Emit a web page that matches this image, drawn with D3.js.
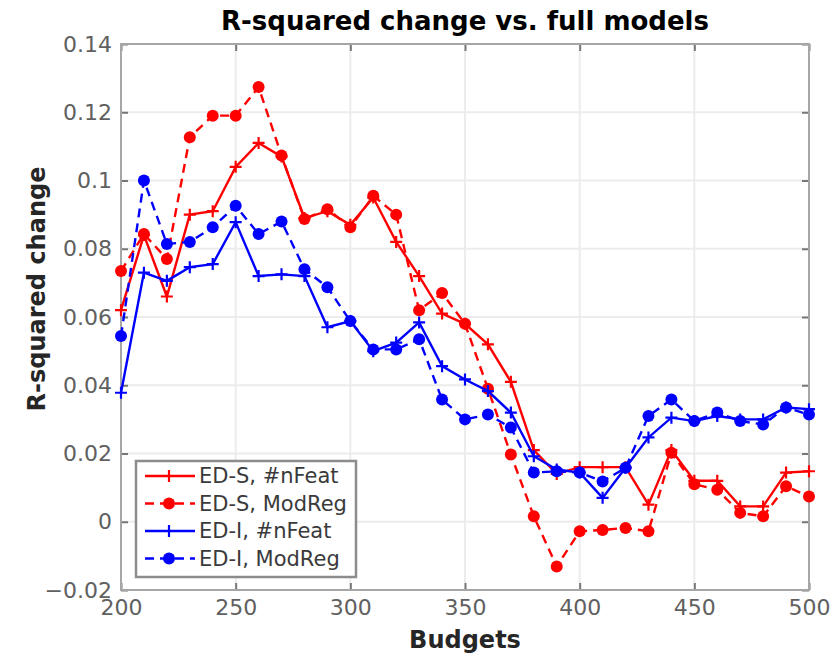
<!DOCTYPE html>
<html lang="en">
<head>
<meta charset="utf-8">
<title>R-squared change vs. full models</title>
<script src="https://d3js.org/d3.v7.min.js"></script>
<style>
  body { margin: 0; background: #fff; }
  text { font-family: "DejaVu Sans", sans-serif; }
</style>
</head>
<body>
<script>
// budgets on the x axis
var budgets = [200, 210, 220, 230, 240, 250, 260, 270, 280, 290, 300, 310, 320, 330, 340, 350,
               360, 370, 380, 390, 400, 410, 420, 430, 440, 450, 460, 470, 480, 490, 500];

// ED-S, #nFeat (red solid)
var edsFeat = [0.062, 0.084, 0.066, 0.090, 0.091, 0.104, 0.111, 0.107, 0.089, 0.091, 0.087,
               0.095, 0.082, 0.072, 0.061, 0.058, 0.052, 0.041, 0.021, 0.014, 0.016, 0.016,
               0.016, 0.005, 0.021, 0.012, 0.012, 0.0045, 0.0045, 0.0144, 0.0148];
// ED-S, ModReg (red dashed)
var edsMod = [0.0735, 0.0843, 0.077, 0.1127, 0.119, 0.119, 0.1274, 0.1073, 0.0887, 0.0916, 0.0863,
              0.0955, 0.090, 0.062, 0.067, 0.058, 0.039, 0.0197, 0.0016, -0.0131, -0.0028, -0.0024,
              -0.0018, -0.0028, 0.0202, 0.011, 0.0094, 0.0026, 0.0016, 0.0104, 0.0074];
// ED-I, #nFeat (blue solid)
var ediFeat = [0.0378, 0.073, 0.0706, 0.0746, 0.0755, 0.0878, 0.072, 0.0725, 0.072, 0.057, 0.0588,
               0.050, 0.0525, 0.0584, 0.0456, 0.0417, 0.0383, 0.032, 0.0192, 0.0153, 0.0144, 0.007,
               0.0158, 0.0247, 0.0305, 0.0295, 0.031, 0.030, 0.030, 0.0335, 0.033];
// ED-I, ModReg (blue dashed)
var ediMod = [0.0544, 0.100, 0.0814, 0.082, 0.0863, 0.0926, 0.0843, 0.088, 0.074, 0.0687, 0.0588,
              0.0505, 0.0505, 0.0535, 0.0358, 0.030, 0.0314, 0.0276, 0.0144, 0.0148, 0.0144, 0.0118,
              0.0158, 0.031, 0.0358, 0.0295, 0.032, 0.0295, 0.0285, 0.0335, 0.0314];

var seriesNames = ["ED-S, #nFeat", "ED-S, ModReg", "ED-I, #nFeat", "ED-I, ModReg"];
var xTicks = [200, 250, 300, 350, 400, 450, 500];
var yTicks = [-0.02, 0, 0.02, 0.04, 0.06, 0.08, 0.1, 0.12, 0.14];

var w = 840, h = 657;
var padL = 121, padR = 809, padT = 44, padB = 590;

var series = [
  { name: seriesNames[0], values: edsFeat, color: "#ff0000", dash: null, marker: "plus" },
  { name: seriesNames[1], values: edsMod, color: "#ff0000", dash: "9,6", marker: "dot" },
  { name: seriesNames[2], values: ediFeat, color: "#0000ff", dash: null, marker: "plus" },
  { name: seriesNames[3], values: ediMod, color: "#0000ff", dash: "9,6", marker: "dot" }
];

var svg = d3.select("body").append("svg")
  .attr("width", w)
  .attr("height", h);

var x = d3.scaleLinear().domain([200, 500]).range([padL, padR]);
var y = d3.scaleLinear().domain([-0.02, 0.14]).range([padB, padT]);

// grid
svg.append("g").selectAll("line").data(xTicks).enter().append("line")
  .attr("x1", function(d) { return x(d); }).attr("x2", function(d) { return x(d); })
  .attr("y1", padT).attr("y2", padB)
  .attr("stroke", "#ececec").attr("stroke-width", 2);
svg.append("g").selectAll("line").data(yTicks).enter().append("line")
  .attr("y1", function(d) { return y(d); }).attr("y2", function(d) { return y(d); })
  .attr("x1", padL).attr("x2", padR)
  .attr("stroke", "#ececec").attr("stroke-width", 2);

// axes (ticks inside, box drawn after)
var fmt = function(d) { return d3.format("~g")(+d.toFixed(2)); };
var xAxis = svg.append("g")
  .attr("transform", "translate(0," + padB + ")")
  .call(d3.axisBottom(x).tickValues(xTicks).tickSize(-7).tickPadding(9).tickFormat(d3.format("d")));
var xAxisTop = svg.append("g")
  .attr("transform", "translate(0," + padT + ")")
  .call(d3.axisTop(x).tickValues(xTicks).tickSize(-7).tickFormat(""));
var yAxis = svg.append("g")
  .attr("transform", "translate(" + padL + ",0)")
  .call(d3.axisLeft(y).tickValues(yTicks).tickSize(-7).tickPadding(9).tickFormat(fmt));
var yAxisRight = svg.append("g")
  .attr("transform", "translate(" + padR + ",0)")
  .call(d3.axisRight(y).tickValues(yTicks).tickSize(-7).tickFormat(""));

[xAxis, xAxisTop, yAxis, yAxisRight].forEach(function(g) {
  g.select(".domain").remove();
  g.selectAll(".tick line").attr("stroke", "#777").attr("stroke-width", 2);
  g.selectAll("text")
    .attr("fill", "#606060")
    .style("font-size", "22px")
    .style("font-family", "DejaVu Sans, sans-serif");
});

svg.append("rect")
  .attr("x", padL).attr("y", padT)
  .attr("width", padR - padL).attr("height", padB - padT)
  .attr("fill", "none").attr("stroke", "#a6a6a6").attr("stroke-width", 2);

// lines and markers
var line = d3.line()
  .x(function(d, i) { return x(budgets[i]); })
  .y(function(d) { return y(d); });

function drawMarker(g, type, color, size) {
  if (type === "plus") {
    g.append("path")
      .attr("d", "M" + (-size) + ",0H" + size + "M0," + (-size) + "V" + size)
      .attr("stroke", color).attr("stroke-width", 2.2).attr("fill", "none");
  } else {
    g.append("circle").attr("r", size).attr("fill", color);
  }
}

series.forEach(function(s) {
  var g = svg.append("g");
  g.append("path")
    .datum(s.values)
    .attr("d", line)
    .attr("fill", "none")
    .attr("stroke", s.color)
    .attr("stroke-width", 2.4)
    .attr("stroke-dasharray", s.dash);
  g.selectAll("g.m").data(s.values).enter().append("g")
    .attr("class", "m")
    .attr("transform", function(d, i) { return "translate(" + x(budgets[i]) + "," + y(d) + ")"; })
    .each(function() { drawMarker(d3.select(this), s.marker, s.color, 6); });
});

// title and axis labels
svg.append("text")
  .attr("x", (padL + padR) / 2).attr("y", 30)
  .attr("text-anchor", "middle")
  .style("font-size", "26px").style("font-weight", "bold")
  .attr("fill", "#000")
  .text("R-squared change vs. full models");

svg.append("text")
  .attr("x", (padL + padR) / 2).attr("y", 648)
  .attr("text-anchor", "middle")
  .style("font-size", "24px").style("font-weight", "bold")
  .attr("fill", "#262626")
  .text("Budgets");

svg.append("text")
  .attr("transform", "translate(45," + ((padT + padB) / 2 - 28) + ") rotate(-90)")
  .attr("text-anchor", "middle")
  .style("font-size", "24px").style("font-weight", "bold")
  .attr("fill", "#262626")
  .text("R-squared change");

// legend
var legend = svg.append("g").attr("transform", "translate(136,461)");
legend.append("rect")
  .attr("width", 220).attr("height", 116)
  .attr("fill", "#fff").attr("stroke", "#8c8c8c").attr("stroke-width", 2.5);
series.forEach(function(s, i) {
  var row = legend.append("g").attr("transform", "translate(0," + (15 + i * 27.5) + ")");
  row.append("line")
    .attr("x1", 9).attr("x2", 59)
    .attr("stroke", s.color).attr("stroke-width", 2.4)
    .attr("stroke-dasharray", s.dash);
  var m = row.append("g").attr("transform", "translate(33,0)");
  drawMarker(m, s.marker, s.color, 6);
  row.append("text")
    .attr("x", 63).attr("y", 0).attr("dy", "0.35em")
    .style("font-size", "21px")
    .attr("fill", "#3a3a3a")
    .text(s.name);
});
</script>
</body>
</html>
